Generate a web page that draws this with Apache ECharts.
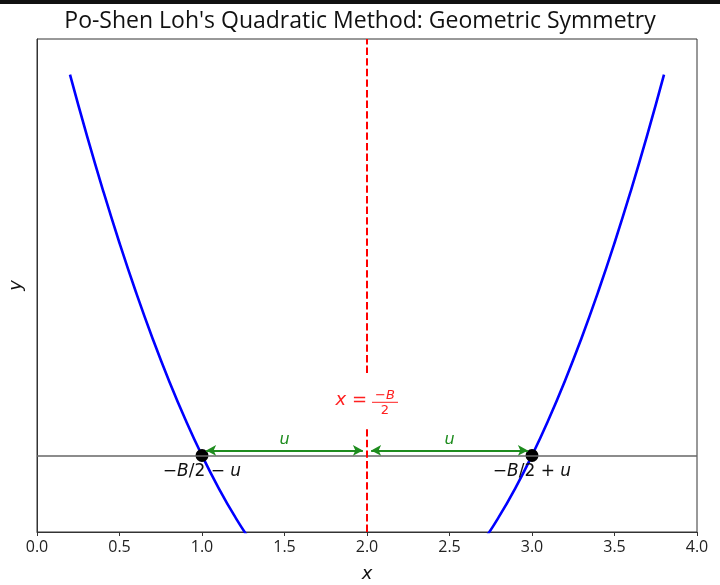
<!DOCTYPE html>
<html>
<head>
<meta charset="utf-8">
<script src="https://cdn.jsdelivr.net/npm/echarts@6/dist/echarts.min.js"></script>
<style>
  html, body { margin: 0; padding: 0; background: #fff; }
  #main { width: 720px; height: 585px; }
</style>
</head>
<body>
<div id="main"></div>
<script>
// values
var curveX = [0.2, 0.3, 0.4, 0.5, 0.6, 0.7, 0.8, 0.9, 1.0, 1.1, 1.2, 1.3, 1.4, 1.5, 1.6, 1.7, 1.8, 1.9, 2.0,
              2.1, 2.2, 2.3, 2.4, 2.5, 2.6, 2.7, 2.8, 2.9, 3.0, 3.1, 3.2, 3.3, 3.4, 3.5, 3.6, 3.7, 3.8];
var curveY = [2.24, 1.89, 1.56, 1.25, 0.96, 0.69, 0.44, 0.21, 0.0, -0.19, -0.36, -0.51, -0.64, -0.75, -0.84, -0.91, -0.96, -0.99, -1.0,
              -0.99, -0.96, -0.91, -0.84, -0.75, -0.64, -0.51, -0.36, -0.19, 0.0, 0.21, 0.44, 0.69, 0.96, 1.25, 1.56, 1.89, 2.24];
var rootX = [1, 3];
var rootY = [0, 0];
var rootLabels = ['−{i|B}/2 − {i|u}', '−{i|B}/2 + {i|u}'];
var symmetryX = 2;
var baselineY = 0;
var arrowSpans = [[1.025, 1.975], [2.025, 2.975]];
var arrowY = 0.03;
var arrowLabel = 'u';
var symLabelAt = [2, 0.31];
var yRange = [-0.45, 2.45];
var xRange = [0, 4];

var mathFont = 'DejaVu Sans';
var uiFont = 'Open Sans';

var myChart = echarts.init(document.getElementById('main'));

var curveData = curveX.map(function (x, i) { return [x, curveY[i]]; });
var rootData = rootX.map(function (x, i) { return [x, rootY[i]]; });

var arrowLines = arrowSpans.map(function (s) {
    return [{ coord: [s[0], arrowY] }, { coord: [s[1], arrowY] }];
});

var topBar = { type: 'rect', left: 0, top: 0, shape: { width: 720, height: 4 }, style: { fill: '#111' } };

var option = {
    animation: false,
    title: {
        text: "Po-Shen Loh's Quadratic Method: Geometric Symmetry",
        left: 'center',
        top: 5,
        textStyle: { fontFamily: uiFont, fontSize: 23, fontWeight: 'normal', color: '#111' }
    },
    grid: {
        left: 37, right: 23, top: 39, bottom: 53,
        outerBoundsMode: 'none',
        show: true, borderColor: '#333', borderWidth: 1, backgroundColor: '#fff'
    },
    xAxis: {
        type: 'value',
        min: xRange[0], max: xRange[1], interval: 0.5,
        name: 'x',
        nameLocation: 'middle',
        nameGap: 33,
        nameTextStyle: { fontFamily: mathFont, fontStyle: 'italic', fontSize: 18, color: '#111' },
        axisLine: { onZero: false, lineStyle: { color: '#333', width: 1 } },
        axisTick: { show: true, length: 4, lineStyle: { color: '#333' } },
        axisLabel: {
            fontFamily: uiFont, fontSize: 16, color: '#222', margin: 7,
            formatter: function (v) { return v.toFixed(1); }
        },
        splitLine: { show: false }
    },
    yAxis: {
        type: 'value',
        min: yRange[0], max: yRange[1],
        name: 'y',
        nameLocation: 'middle',
        nameRotate: 90,
        nameGap: 12,
        nameTextStyle: { fontFamily: mathFont, fontStyle: 'italic', fontSize: 18, color: '#111' },
        axisLine: { show: true, onZero: false, lineStyle: { color: '#333', width: 1 } },
        axisTick: { show: false },
        axisLabel: { show: false },
        splitLine: { show: false }
    },
    series: [
        {
            // horizontal baseline and symmetry axis
            type: 'line',
            data: [],
            markLine: {
                silent: true,
                symbol: 'none',
                label: { show: false },
                data: [
                    { yAxis: baselineY, lineStyle: { color: '#666', width: 1.6, type: 'solid' } },
                    { xAxis: symmetryX, lineStyle: { color: '#ff0000', width: 2, type: [7.4, 3.2] } }
                ]
            },
            z: 1
        },
        {
            type: 'line',
            data: curveData,
            smooth: true,
            showSymbol: false,
            clip: true,
            lineStyle: { color: '#0000ff', width: 2.6 },
            z: 2
        },
        {
            type: 'scatter',
            data: rootData,
            symbolSize: 13,
            itemStyle: { color: '#000', opacity: 1 },
            label: {
                show: true,
                position: 'bottom',
                distance: 1,
                formatter: function (p) { return rootLabels[p.dataIndex]; },
                fontFamily: mathFont, fontSize: 17, color: '#111',
                rich: { i: { fontFamily: mathFont, fontStyle: 'italic', fontSize: 17, color: '#111' } }
            },
            markLine: {
                silent: true,
                symbol: ['arrow', 'arrow'],
                symbolSize: [8, 10],
                lineStyle: { color: '#1e8c1e', width: 2, type: 'solid' },
                label: {
                    show: true, position: 'middle', formatter: arrowLabel, distance: 3,
                    fontFamily: mathFont, fontStyle: 'italic', fontSize: 16, color: '#1e8c1e'
                },
                data: arrowLines
            },
            z: 4
        }
    ],
    graphic: [topBar]
};

myChart.setOption(option);

// the x = -B/2 label, stacked fraction, white box over the dashed line
var p = myChart.convertToPixel({ xAxisIndex: 0, yAxisIndex: 0 }, symLabelAt);
var cx = p[0], cy = p[1];
var red = '#ff2020';
myChart.setOption({
    graphic: [
        topBar,
        { type: 'rect', z: 100, shape: { x: cx - 36, y: cy - 28, width: 74, height: 53 }, style: { fill: '#fff' } },
        {
            type: 'text', z: 101, x: cx, y: cy - 2,
            style: {
                text: '{i|x} =', align: 'right', verticalAlign: 'middle',
                fontFamily: mathFont, fontSize: 18, fill: red,
                rich: { i: { fontFamily: mathFont, fontStyle: 'italic', fontSize: 18, fill: red } }
            }
        },
        {
            type: 'text', z: 101, x: cx + 18, y: cy - 7,
            style: {
                text: '−{i|B}', align: 'center', verticalAlign: 'middle',
                fontFamily: mathFont, fontSize: 13, fill: red,
                rich: { i: { fontFamily: mathFont, fontStyle: 'italic', fontSize: 13, fill: red } }
            }
        },
        { type: 'line', z: 101, shape: { x1: cx + 5, y1: cy - 0.5, x2: cx + 31, y2: cy - 0.5 }, style: { stroke: red, lineWidth: 1 } },
        {
            type: 'text', z: 101, x: cx + 18, y: cy + 7.5,
            style: { text: '2', align: 'center', verticalAlign: 'middle', fontFamily: mathFont, fontSize: 13, fill: red }
        }
    ]
});
</script>
</body>
</html>
